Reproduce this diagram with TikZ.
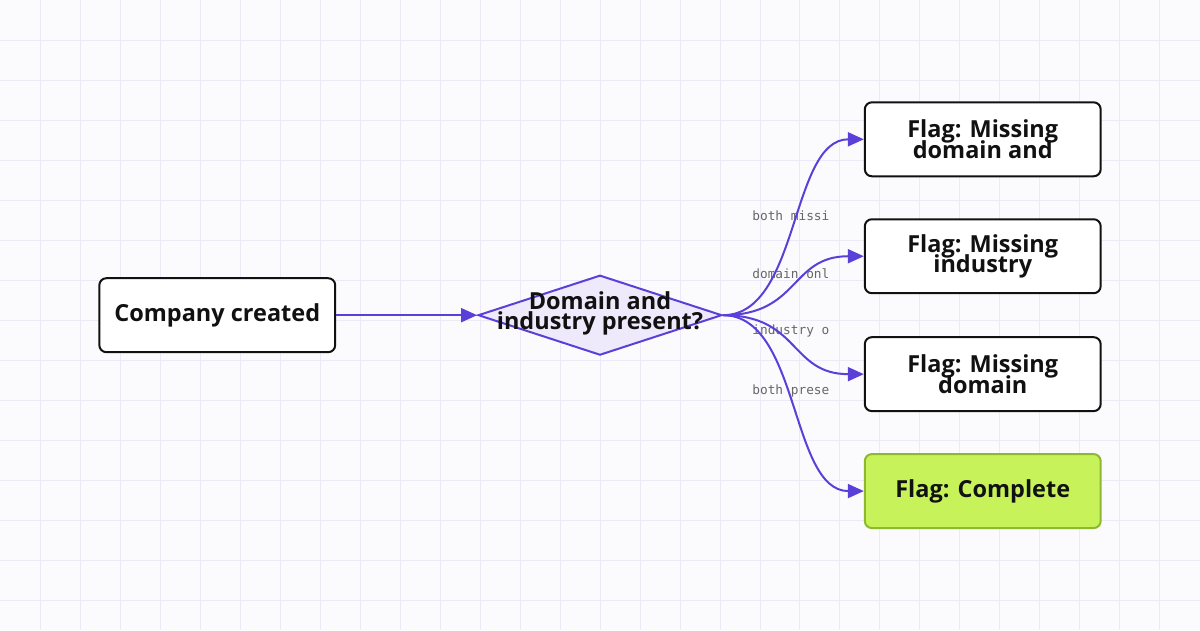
\documentclass[tikz,border=0pt]{standalone}
\usepackage{fontspec}
\setmainfont{Open Sans}
\setmonofont{DejaVu Sans Mono}
\usetikzlibrary{arrows.meta,shapes.geometric}
\definecolor{pur}{HTML}{5B3FD9}
\definecolor{grid}{HTML}{ECEAF8}
\definecolor{bg}{HTML}{FBFBFE}
\definecolor{lav}{HTML}{EEEAFB}
\definecolor{lime}{HTML}{C8F25A}
\definecolor{limed}{HTML}{8DB92E}
\definecolor{ink}{HTML}{111111}
\begin{document}
\begin{tikzpicture}[x=1pt,y=-1pt,
  box/.style={draw=ink,line width=2pt,rounded corners=7pt,fill=white,minimum width=236pt,minimum height=74pt,inner sep=0pt,align=center,font=\bfseries\fontsize{23.5}{20}\selectfont,text=ink},
  edge/.style={draw=pur,line width=2pt,-{Triangle[length=16pt,width=14pt]}},
  lbl/.style={font=\ttfamily\fontsize{12.8}{14}\selectfont,text=black!60}]
\fill[bg] (0,0) rectangle (1200,630);
\foreach \x in {40,80,...,1160} \draw[grid,line width=0.8pt] (\x,0) -- (\x,630);
\foreach \y in {40,80,...,600} \draw[grid,line width=0.8pt] (0,\y) -- (1200,\y);
\useasboundingbox (0,0) rectangle (1200,630);
\node[box] (a) at (217,315) {Company created};
\node[draw=pur,line width=2pt,fill=lav,diamond,aspect=3.05,minimum width=244pt,minimum height=80pt,inner sep=0pt] (d) at (600,315) {};
\node[font=\bfseries\fontsize{23.5}{20}\selectfont,text=ink,align=center] (dt) at (600,313) {Domain and\\industry present?};
\node[box] (b1) at (983,139) {Flag: Missing\\[-4pt]domain and};
\node[box] (b2) at (983,256) {Flag: Missing\\[-4pt]industry};
\node[box] (b3) at (983,374) {Flag: Missing\\[-4pt]domain};
\node[box,fill=lime,draw=limed] (b4) at (983,491) {Flag: Complete};
\node[lbl] (l1) at (791,215) {both missi};
\node[lbl] (l2) at (791,273) {domain onl};
\node[lbl] (l3) at (791,331) {industry o};
\node[lbl] (l4) at (791,391) {both prese};
\draw[edge] (a.east) -- (d.west);
\coordinate (t) at (d.east);
\draw[edge] (t) .. controls (800,315) and (790,139) .. (b1.west);
\draw[edge] (t) .. controls (800,315) and (790,256) .. (b2.west);
\draw[edge] (t) .. controls (800,315) and (790,374) .. (b3.west);
\draw[edge] (t) .. controls (800,315) and (790,491) .. (b4.west);
\end{tikzpicture}
\end{document}
